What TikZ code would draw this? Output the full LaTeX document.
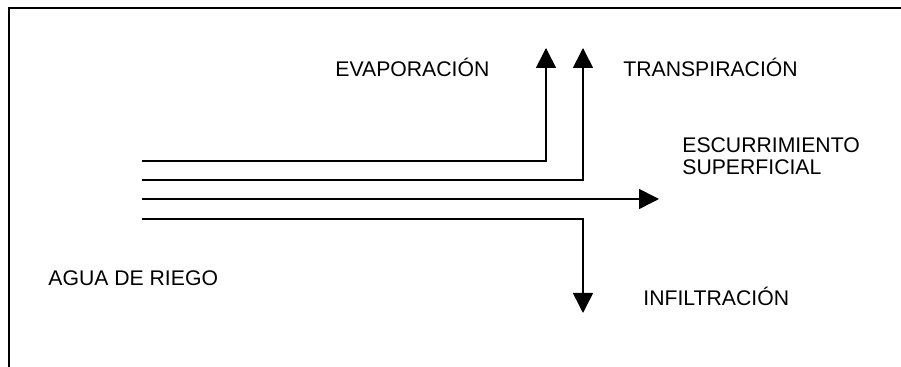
\documentclass[tikz,border=0pt]{standalone}
\usepackage{fontspec}
\setmainfont{Liberation Sans}
\usetikzlibrary{arrows.meta}

\begin{document}
\begin{tikzpicture}[x=0.5pt,y=-0.5pt,
	flow/.style={line width=0.8pt, -{Triangle[length=10pt,width=10pt]}},
	lbl/.style={anchor=base west, inner sep=0pt, align=left, font=\fontsize{10.6}{11}\selectfont}]

\useasboundingbox (0,0) rectangle (901,367);

\draw[line width=1pt] (9,367)--(9,8)--(901,8);

\node[lbl] (evap) at (335,77) {EVAPORACIÓN};
\node[lbl] (trans) at (623,77) {TRANSPIRACIÓN};
\node[lbl] (escur) at (682,175) {ESCURRIMIENTO\\SUPERFICIAL};
\node[lbl] (agua) at (48,286) {AGUA DE RIEGO};
\node[lbl] (infil) at (643,306) {INFILTRACIÓN};

\coordinate (in1) at (142,161);
\coordinate (in2) at (142,180);
\coordinate (in3) at (142,199);
\coordinate (in4) at (142,219);

\coordinate (out1) at (546,48);
\coordinate (out2) at (583,48);
\coordinate (out3) at (659,199);
\coordinate (out4) at (583,313);

\draw[flow] (in1) -| (out1);
\draw[flow] (in2) -| (out2);
\draw[flow] (in3) -- (out3);
\draw[flow] (in4) -| (out4);

\end{tikzpicture}
\end{document}
